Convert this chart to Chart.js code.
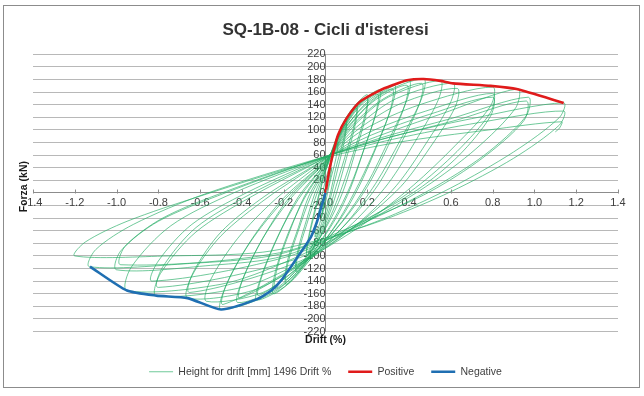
<!DOCTYPE html>
<html lang="it">
<head>
<meta charset="utf-8" />
<title>SQ-1B-08 - Cicli d'isteresi</title>
<script src="https://cdn.jsdelivr.net/npm/chart.js@4.4.0/dist/chart.umd.min.js"></script>
<style>
  html, body { margin: 0; padding: 0; background: #fff; }
  #wrap { position: relative; width: 644px; height: 396px; }
</style>
</head>
<body>
<div id="wrap"><canvas id="cicli"></canvas></div>
<script>
// axis ranges
const driftMin = -1.4, driftMax = 1.4, driftStep = 0.2;
const forceMin = -220, forceMax = 220, forceStep = 20;

// hysteresis loops [drift %, force kN], grouped by target drift
const cyclesElastic = [
  [0, 0], [0.01, 15], [0.03, 40], [0.02, 20], [0, -5], [-0.01, -20], [-0.02, -40], [-0.01, -20], [0, 5],
  [0.02, 35], [0.04, 62], [0.06, 80], [0.05, 55], [0.02, 15], [0, -15], [-0.02, -40], [-0.05, -70], [-0.04, -45], [-0.02, -10], [0, 20],
  [0.03, 55], [0.06, 92], [0.1, 118], [0.09, 90], [0.05, 40], [0.02, -5], [-0.01, -40], [-0.05, -75], [-0.09, -100], [-0.08, -72], [-0.05, -30], [-0.02, 10], [0, 35],
  [0.04, 68], [0.07, 95], [0.1, 110], [0.09, 82], [0.06, 40], [0.03, 0], [0, -38], [-0.04, -70], [-0.09, -95], [-0.08, -68], [-0.05, -25], [-0.02, 12], [0, 38]
];
const cycles015 = [
  [0.04, 75], [0.09, 115], [0.15, 140], [0.14, 112], [0.1, 65], [0.05, 10], [0.01, -35], [-0.04, -75], [-0.09, -105], [-0.14, -125], [-0.13, -95], [-0.09, -50], [-0.04, 0], [0, 35],
  [0.05, 82], [0.1, 118], [0.15, 134], [0.14, 105], [0.1, 55], [0.06, 8], [0.02, -32], [-0.04, -78], [-0.14, -118], [-0.13, -88], [-0.09, -42], [-0.05, 0], [0, 38]
];
const cycles020 = [
  [0.05, 85], [0.12, 130], [0.2, 156], [0.19, 125], [0.14, 70], [0.08, 10], [0.02, -40], [-0.05, -85], [-0.12, -122], [-0.19, -145], [-0.18, -112], [-0.13, -60], [-0.07, -5], [0, 40],
  [0.06, 88], [0.13, 128], [0.2, 150], [0.19, 118], [0.14, 62], [0.09, 8], [0.03, -38], [-0.06, -88], [-0.19, -138], [-0.18, -105], [-0.13, -55], [-0.08, -5], [0, 42]
];
const cycles025 = [
  [0.07, 95], [0.15, 138], [0.26, 164], [0.25, 135], [0.19, 75], [0.12, 12], [0.04, -42], [-0.06, -95], [-0.16, -138], [-0.25, -160], [-0.24, -125], [-0.18, -65], [-0.1, -8], [0, 45],
  [0.08, 98], [0.16, 136], [0.25, 157], [0.24, 126], [0.18, 65], [0.12, 8], [0.05, -40], [-0.07, -98], [-0.24, -152], [-0.23, -118], [-0.17, -60], [-0.1, -5], [0, 46]
];
const cycles033 = [
  [0.08, 100], [0.18, 145], [0.33, 171], [0.32, 140], [0.25, 80], [0.16, 15], [0.06, -45], [-0.06, -100], [-0.18, -145], [-0.33, -170], [-0.31, -135], [-0.23, -70], [-0.13, -10], [0, 48],
  [0.09, 102], [0.2, 142], [0.32, 165], [0.31, 132], [0.24, 70], [0.16, 10], [0.07, -42], [-0.07, -100], [-0.32, -163], [-0.3, -128], [-0.22, -64], [-0.13, -6], [0, 48]
];
const cycles040 = [
  [0.1, 105], [0.22, 150], [0.4, 178], [0.39, 148], [0.3, 82], [0.2, 15], [0.08, -45], [-0.08, -105], [-0.22, -150], [-0.42, -174], [-0.4, -140], [-0.3, -72], [-0.17, -10], [0, 50],
  [0.11, 106], [0.24, 148], [0.39, 171], [0.38, 140], [0.3, 75], [0.2, 10], [0.09, -42], [-0.08, -102], [-0.41, -167], [-0.39, -132], [-0.29, -66], [-0.17, -6], [0, 50]
];
const cycles047 = [
  [0.12, 108], [0.26, 155], [0.47, 181], [0.46, 150], [0.36, 85], [0.24, 15], [0.1, -48], [-0.08, -108], [-0.25, -158], [-0.5, -185], [-0.48, -150], [-0.36, -78], [-0.2, -12], [0, 52],
  [0.13, 108], [0.28, 150], [0.46, 174], [0.45, 142], [0.36, 78], [0.25, 12], [0.11, -45], [-0.09, -105], [-0.49, -177], [-0.47, -142], [-0.35, -72], [-0.2, -8], [0, 52]
];
const cycles055 = [
  [0.14, 108], [0.3, 152], [0.55, 178], [0.54, 148], [0.43, 82], [0.3, 15], [0.13, -48], [-0.1, -110], [-0.3, -158], [-0.57, -172], [-0.55, -138], [-0.42, -72], [-0.24, -10], [0, 54]
];
const cycles063 = [
  [0.15, 105], [0.34, 150], [0.61, 174], [0.6, 145], [0.48, 78], [0.34, 12], [0.15, -50], [-0.11, -112], [-0.35, -155], [-0.66, -167], [-0.64, -132], [-0.5, -68], [-0.28, -8], [0, 55],
  [0.16, 102], [0.36, 142], [0.63, 166], [0.62, 136], [0.5, 72], [0.36, 10], [0.16, -48], [-0.12, -108], [-0.65, -158], [-0.63, -124], [-0.5, -62], [-0.29, -5], [0, 55]
];
const cycles080 = [
  [0.18, 100], [0.45, 140], [0.8, 168], [0.79, 138], [0.62, 75], [0.42, 12], [0.18, -50], [-0.13, -112], [-0.4, -150], [-0.81, -163], [-0.79, -128], [-0.62, -62], [-0.35, -5], [0, 56],
  [0.2, 95], [0.48, 130], [0.8, 158], [0.79, 128], [0.63, 66], [0.43, 8], [0.18, -46], [-0.15, -106], [-0.8, -150], [-0.78, -118], [-0.62, -55], [-0.36, -2], [0, 56],
  [0.22, 92], [0.5, 125], [0.8, 152], [0.79, 122], [0.64, 60], [0.44, 5], [0.18, -44], [-0.17, -100], [-0.83, -140], [-0.8, -108], [-0.64, -50], [-0.38, 0], [0, 57]
];
const cycles095 = [
  [0.25, 90], [0.55, 125], [0.92, 165], [0.91, 135], [0.72, 70], [0.48, 10], [0.2, -45], [-0.18, -108], [-0.5, -145], [-0.95, -155], [-0.93, -118], [-0.74, -52], [-0.44, 0], [0, 57],
  [0.27, 88], [0.6, 118], [0.97, 152], [0.96, 122], [0.76, 60], [0.5, 5], [0.22, -42], [-0.2, -100], [-0.55, -115], [-1.0, -122], [-0.98, -92], [-0.8, -45], [-0.48, 0], [0, 58],
  [0.28, 86], [0.62, 115], [0.96, 146], [0.95, 115], [0.75, 55], [0.5, 2], [0.22, -40], [-0.22, -95], [-0.98, -114], [-0.96, -85], [-0.78, -40], [-0.48, 2], [0, 58]
];
const cycles113 = [
  [0.3, 88], [0.7, 118], [1.14, 143], [1.12, 120], [0.9, 65], [0.6, 8], [0.3, -38], [0.02, -72], [-0.26, -100], [-0.65, -112], [-1.13, -117], [-1.1, -90], [-0.92, -50], [-0.58, -2], [0, 58],
  [0.32, 85], [0.74, 112], [1.14, 130], [1.12, 108], [0.9, 55], [0.6, 2], [0.3, -40], [0.02, -70], [-0.3, -94], [-0.75, -100], [-1.2, -100], [-1.15, -78], [-0.95, -45], [-0.6, -5], [0, 56],
  [0.34, 80], [0.78, 100], [1.13, 113], [1.12, 103], [1.1, 97]
];

// envelopes
const positiveEnvelope = [
  [0, 0], [0.015, 30], [0.036, 63], [0.06, 92], [0.1, 118], [0.165, 145], [0.26, 163], [0.32, 171],
  [0.39, 179], [0.47, 181], [0.55, 178], [0.61, 174], [0.79, 170], [0.915, 165], [1.14, 143]
];
const negativeEnvelope = [
  [0, 0], [-0.02, -22], [-0.04, -45], [-0.07, -70], [-0.13, -100], [-0.21, -138], [-0.26, -155],
  [-0.33, -169], [-0.5, -185], [-0.66, -167], [-0.81, -163], [-0.95, -155], [-1.127, -117]
];

const toXY = (pts) => pts.map(p => ({ x: p[0], y: p[1] }));
const hysteresis = [].concat(cyclesElastic, cycles015, cycles020, cycles025, cycles033,
  cycles040, cycles047, cycles055, cycles063, cycles080, cycles095, cycles113);

const FONT = "'Liberation Sans', Arial, sans-serif";
const TXT = '#404040';

// outer frame + axis titles + x tick marks above the axis
const decor = {
  id: 'decor',
  afterDraw(chart) {
    const { ctx, chartArea, scales: { x, y } } = chart;
    ctx.save();
    ctx.strokeStyle = '#8c8c8c';
    ctx.lineWidth = 1;
    ctx.strokeRect(3.5, 5.5, 636, 382);
    const y0 = Math.round(y.getPixelForValue(0)) + 0.5;
    ctx.beginPath();
    x.ticks.forEach(t => {
      const px = Math.round(x.getPixelForValue(t.value)) + 0.5;
      ctx.moveTo(px, y0 - 4);
      ctx.lineTo(px, y0);
    });
    ctx.stroke();
    ctx.fillStyle = '#1a1a1a';
    ctx.font = 'bold 10.5px ' + FONT;
    ctx.textAlign = 'center';
    ctx.textBaseline = 'middle';
    ctx.fillText('Drift (%)', x.getPixelForValue(0), chartArea.bottom + 9);
    ctx.translate(chartArea.left - 9, y.getPixelForValue(10));
    ctx.rotate(-Math.PI / 2);
    ctx.fillText('Forza (kN)', 0, 0);
    ctx.restore();
  }
};

new Chart(document.getElementById('cicli'), {
  type: 'scatter',
  data: {
    datasets: [
      {
        label: 'Height for drift [mm] 1496 Drift %',
        data: toXY(hysteresis),
        showLine: true,
        borderColor: 'rgba(35,172,100,0.82)',
        borderWidth: 0.8,
        pointRadius: 0,
        tension: 0.3,
        order: 2
      },
      {
        label: 'Positive',
        data: toXY(positiveEnvelope),
        showLine: true,
        borderColor: '#e01b1b',
        borderWidth: 2.6,
        pointRadius: 0,
        tension: 0.2,
        order: 1
      },
      {
        label: 'Negative',
        data: toXY(negativeEnvelope),
        showLine: true,
        borderColor: '#1f6fb2',
        borderWidth: 2.6,
        pointRadius: 0,
        tension: 0.2,
        order: 0
      }
    ]
  },
  options: {
    responsive: true,
    maintainAspectRatio: false,
    animation: false,
    layout: { padding: { left: 33, right: 26, top: 0, bottom: 9 } },
    plugins: {
      tooltip: { enabled: false },
      title: {
        display: true,
        text: "SQ-1B-08 - Cicli d'isteresi",
        color: '#333333',
        font: { family: FONT, size: 17, weight: 'bold' },
        padding: { top: 20, bottom: 14 }
      },
      legend: {
        position: 'bottom',
        // empty title only keeps room under the plot for the x axis title
        title: { display: true, text: '', padding: 0, font: { size: 15 } },
        labels: {
          usePointStyle: true,
          pointStyle: 'line',
          pointStyleWidth: 24,
          color: TXT,
          font: { family: FONT, size: 10.5 },
          padding: 17,
          sort: (a, b) => a.datasetIndex - b.datasetIndex
        }
      }
    },
    scales: {
      x: {
        type: 'linear',
        position: { y: 0 },
        min: driftMin,
        max: driftMax,
        border: { display: true, color: '#8c8c8c' },
        grid: { drawOnChartArea: false, drawTicks: false },
        ticks: {
          stepSize: driftStep,
          autoSkip: false,
          maxRotation: 0,
          color: TXT,
          font: { family: FONT, size: 11 },
          padding: 3,
          callback: (v) => v.toFixed(1)
        }
      },
      y: {
        type: 'linear',
        position: { x: 0 },
        min: forceMin,
        max: forceMax,
        border: { display: true, color: '#8c8c8c' },
        grid: { color: '#b8b8b8', tickLength: 4 },
        ticks: {
          stepSize: forceStep,
          autoSkip: false,
          color: TXT,
          font: { family: FONT, size: 11 },
          padding: 2
        }
      }
    }
  },
  plugins: [decor]
});
</script>
</body>
</html>
